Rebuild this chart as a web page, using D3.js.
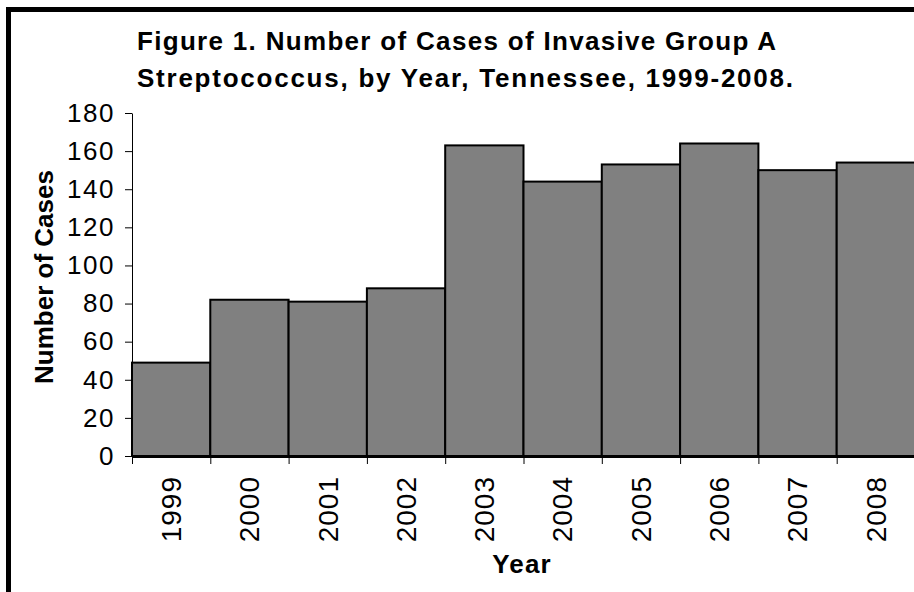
<!DOCTYPE html>
<html>
<head>
<meta charset="utf-8">
<script src="https://cdn.jsdelivr.net/npm/d3@7"></script>
<style>
  body { margin: 0; background: #fff; }
  svg { display: block; font-family: "Liberation Sans", Arial, sans-serif; }
</style>
</head>
<body>
<div id="chart"></div>
<script>
// data
var years = ["1999", "2000", "2001", "2002", "2003", "2004", "2005", "2006", "2007", "2008"];
var cases = [49, 82, 81, 88, 163, 144, 153, 164, 150, 154];
var yTicks = [0, 20, 40, 60, 80, 100, 120, 140, 160, 180];
var titleLines = ["Figure 1. Number of Cases of Invasive Group A",
                  "Streptococcus, by Year, Tennessee, 1999-2008."];

var W = 914, H = 592;
var margin = {top: 113, left: 132, right: -1, bottom: 136};
var width = W - margin.left - margin.right,
    height = H - margin.top - margin.bottom;

var svg = d3.select("#chart").append("svg")
    .attr("width", W)
    .attr("height", H);

// outer chart frame (right and bottom edges fall outside the picture)
svg.append("rect")
    .attr("x", 8.5).attr("y", 9.5)
    .attr("width", 1000).attr("height", 700)
    .attr("fill", "none")
    .attr("stroke", "#000")
    .attr("stroke-width", 5);

//Title
svg.selectAll("text.title")
    .data(titleLines)
  .enter().append("text")
    .attr("class", "title")
    .attr("x", 137)
    .attr("y", function(d, i){ return 50 + i * 37; })
    .attr("textLength", function(d, i){ return i == 0 ? 639 : 656; })
    .attr("lengthAdjust", "spacing")
    .style("font-size", "26px")
    .style("font-weight", "bold")
    .text(function(d){ return d; });

var g = svg.append("g")
    .attr("transform", "translate(" + margin.left + "," + margin.top + ")");

//Scales
var x = d3.scaleBand()
    .domain(years)
    .range([0, width])
    .padding(0);
var xEdge = d3.scaleLinear()
    .domain([0, years.length])
    .range([0, width]);
var y = d3.scaleLinear()
    .domain([0, 180])
    .range([height, 0]);

//Bars
g.selectAll("rect.bar")
    .data(cases)
  .enter().append("rect")
    .attr("class", "bar")
    .attr("x", function(d, i){ return x(years[i]); })
    .attr("y", function(d){ return y(d); })
    .attr("width", x.bandwidth())
    .attr("height", function(d){ return height - y(d); })
    .attr("fill", "#808080")
    .attr("stroke", "#000")
    .attr("stroke-width", 2);

//Y axis
var yAxis = g.append("g")
    .call(d3.axisLeft(y).tickValues(yTicks).tickSize(7).tickSizeOuter(0).tickPadding(10));
yAxis.select(".domain").attr("stroke", "#000").attr("stroke-width", 1);
yAxis.selectAll(".tick line").attr("stroke", "#000");
yAxis.selectAll(".tick text")
    .attr("fill", "#000")
    .style("font-family", "Liberation Sans, Arial, sans-serif")
    .style("font-size", "26px")
    .style("letter-spacing", "1.5px");

//X axis ticks at band edges
var xAxis = g.append("g")
    .attr("transform", "translate(0," + height + ")")
    .call(d3.axisBottom(xEdge).tickValues(d3.range(0, years.length + 1)).tickFormat("").tickSize(8).tickSizeOuter(0));
xAxis.select(".domain").attr("stroke", "#000").attr("stroke-width", 3);
xAxis.selectAll(".tick line").attr("stroke", "#000");

//Year labels, rotated
g.selectAll("text.year")
    .data(years)
  .enter().append("text")
    .attr("class", "year")
    .attr("transform", function(d){
        return "translate(" + (x(d) + x.bandwidth() / 2) + "," + (height + 20) + ") rotate(-90)";
    })
    .attr("dy", "0.35em")
    .attr("text-anchor", "end")
    .style("font-size", "28px")
    .style("letter-spacing", "1px")
    .text(function(d){ return d; });

//Axis titles
svg.append("text")
    .attr("x", margin.left + 390)
    .attr("y", 573)
    .attr("text-anchor", "middle")
    .style("font-size", "26px")
    .style("font-weight", "bold")
    .style("letter-spacing", "1.2px")
    .text("Year");

svg.append("text")
    .attr("transform", "translate(53,277) rotate(-90)")
    .attr("text-anchor", "middle")
    .style("font-size", "26px")
    .style("font-weight", "bold")
    .text("Number of Cases");
</script>
</body>
</html>
